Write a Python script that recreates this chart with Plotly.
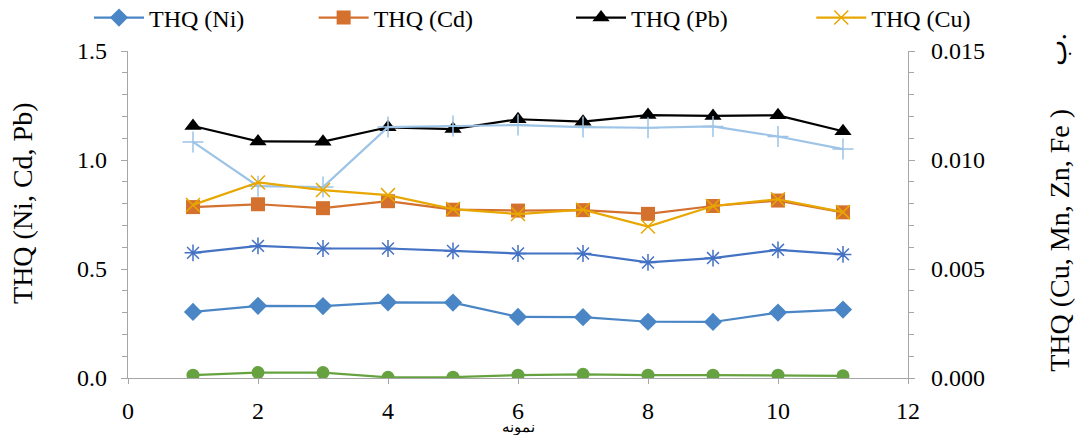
import plotly.graph_objects as go

samples = [1, 2, 3, 4, 5, 6, 7, 8, 9, 10, 11]

thq_ni = [0.303, 0.331, 0.330, 0.347, 0.346, 0.280, 0.279, 0.258, 0.257, 0.300, 0.314]
thq_cd = [0.784, 0.797, 0.779, 0.811, 0.772, 0.768, 0.770, 0.753, 0.789, 0.814, 0.760]
thq_pb = [1.156, 1.085, 1.084, 1.150, 1.142, 1.187, 1.176, 1.206, 1.202, 1.205, 1.132]
thq_cu = [0.00794, 0.00897, 0.00862, 0.00839, 0.00775, 0.00752, 0.00772, 0.00695, 0.00789, 0.00820, 0.00761]
thq_fe = [0.01083, 0.00880, 0.00876, 0.01151, 0.01156, 0.01160, 0.01151, 0.01148, 0.01154, 0.01108, 0.01050]
thq_zn = [0.00574, 0.00606, 0.00594, 0.00594, 0.00583, 0.00571, 0.00571, 0.00530, 0.00550, 0.00588, 0.00567]
thq_mn = [0.00013, 0.00025, 0.00025, 0.00003, 0.00004, 0.00013, 0.00017, 0.00013, 0.00013, 0.00013, 0.00010]

FONT = "Liberation Serif, Times New Roman, serif"
FS = 24
TFS = 28

fig = go.Figure()

def add(y, name, color, symbol, size, axis, legend=None, lw=2.2, mline=None):
    marker = dict(symbol=symbol, size=size, color=color)
    if mline:
        marker["line"] = mline
    kw = {}
    if legend:
        kw["legend"] = legend
    fig.add_trace(go.Scatter(
        x=samples, y=y, name=name, mode="lines+markers",
        line=dict(color=color, width=lw), marker=marker,
        yaxis=axis, showlegend=legend is not None, **kw))

add(thq_mn, "THQ (Mn)", "#66A340", "circle", 13, "y2")
add(thq_zn, "THQ (Zn)", "#4472C4", "asterisk-open", 14, "y2",
    mline=dict(color="#4472C4", width=1.5))
add(thq_fe, "THQ (Fe)", "#9DC3E6", "cross-thin-open", 15, "y2",
    mline=dict(color="#9DC3E6", width=1.5))
add(thq_ni, "THQ (Ni)", "#4A86C5", "diamond", 14, "y", legend="legend")
add(thq_cd, "THQ (Cd)", "#D4712F", "square", 14, "y", legend="legend2")
add(thq_pb, "THQ (Pb)", "#000000", "triangle-up", 15, "y", legend="legend3")
add(thq_cu, "THQ (Cu)", "#E8A700", "x-thin-open", 14, "y2", legend="legend4",
    mline=dict(color="#E8A700", width=1.5))

def leg(x):
    return dict(orientation="h", x=x, y=1.101, xanchor="left", yanchor="middle",
                font=dict(family=FONT, size=FS), itemwidth=50, bgcolor="rgba(0,0,0,0)")

axis_col = "#A6A6A6"
fig.update_layout(
    width=1076, height=435,
    margin=dict(l=128, r=168, t=51, b=57, autoexpand=False),
    paper_bgcolor="white", plot_bgcolor="white",
    font=dict(family=FONT, size=FS, color="#000000"),
    showlegend=True,
    legend=leg(-0.05),
    legend2=leg(0.238),
    legend3=leg(0.568),
    legend4=leg(0.876),
    xaxis=dict(range=[0, 12], tick0=0, dtick=2, showgrid=False, zeroline=False,
               showline=True, linecolor=axis_col, linewidth=1.3,
               ticks="outside", ticklen=5, tickcolor=axis_col,
               tickfont=dict(family=FONT, size=FS), ticklabelstandoff=6),
    yaxis=dict(range=[0, 1.5], tick0=0, dtick=0.5, tickformat=".1f", showgrid=False,
               zeroline=False, showline=True, linecolor=axis_col, linewidth=1.3,
               ticks="outside", ticklen=6, tickcolor=axis_col,
               minor=dict(dtick=0.1, ticks="outside", ticklen=5, tickcolor=axis_col),
               tickfont=dict(family=FONT, size=FS), ticklabelstandoff=9),
    yaxis2=dict(range=[0, 0.015], tick0=0, dtick=0.005, tickformat=".3f", overlaying="y",
                side="right", showgrid=False, zeroline=False, showline=True,
                linecolor=axis_col, linewidth=1.3,
                ticks="outside", ticklen=6, tickcolor=axis_col,
                minor=dict(dtick=0.001, ticks="outside", ticklen=5, tickcolor=axis_col),
                tickfont=dict(family=FONT, size=FS), ticklabelstandoff=11),
)

fig.add_annotation(text="THQ (Ni, Cd, Pb)", textangle=-90, xref="paper", yref="paper",
                   x=-0.136, y=0.535, showarrow=False, xanchor="center", yanchor="middle",
                   font=dict(family=FONT, size=TFS))
fig.add_annotation(text="THQ (Cu, Mn, Zn, Fe )", textangle=-90, xref="paper", yref="paper",
                   x=1.195, y=0.42, showarrow=False, xanchor="center", yanchor="middle",
                   font=dict(family=FONT, size=TFS))
fig.add_annotation(text="ب.", textangle=-90, xref="paper", yref="paper",
                   x=1.19, y=1.003, showarrow=False, xanchor="center", yanchor="middle",
                   font=dict(family=FONT, size=TFS))
fig.add_annotation(text="نمونه", xref="paper", yref="paper",
                   x=0.5, y=-0.15, showarrow=False, xanchor="center", yanchor="middle",
                   font=dict(family=FONT, size=15))

fig.write_html(
    "out.html",
    config={"displayModeBar": False},
    post_script="document.body.style.margin='0';document.body.style.overflow='hidden';",
)
